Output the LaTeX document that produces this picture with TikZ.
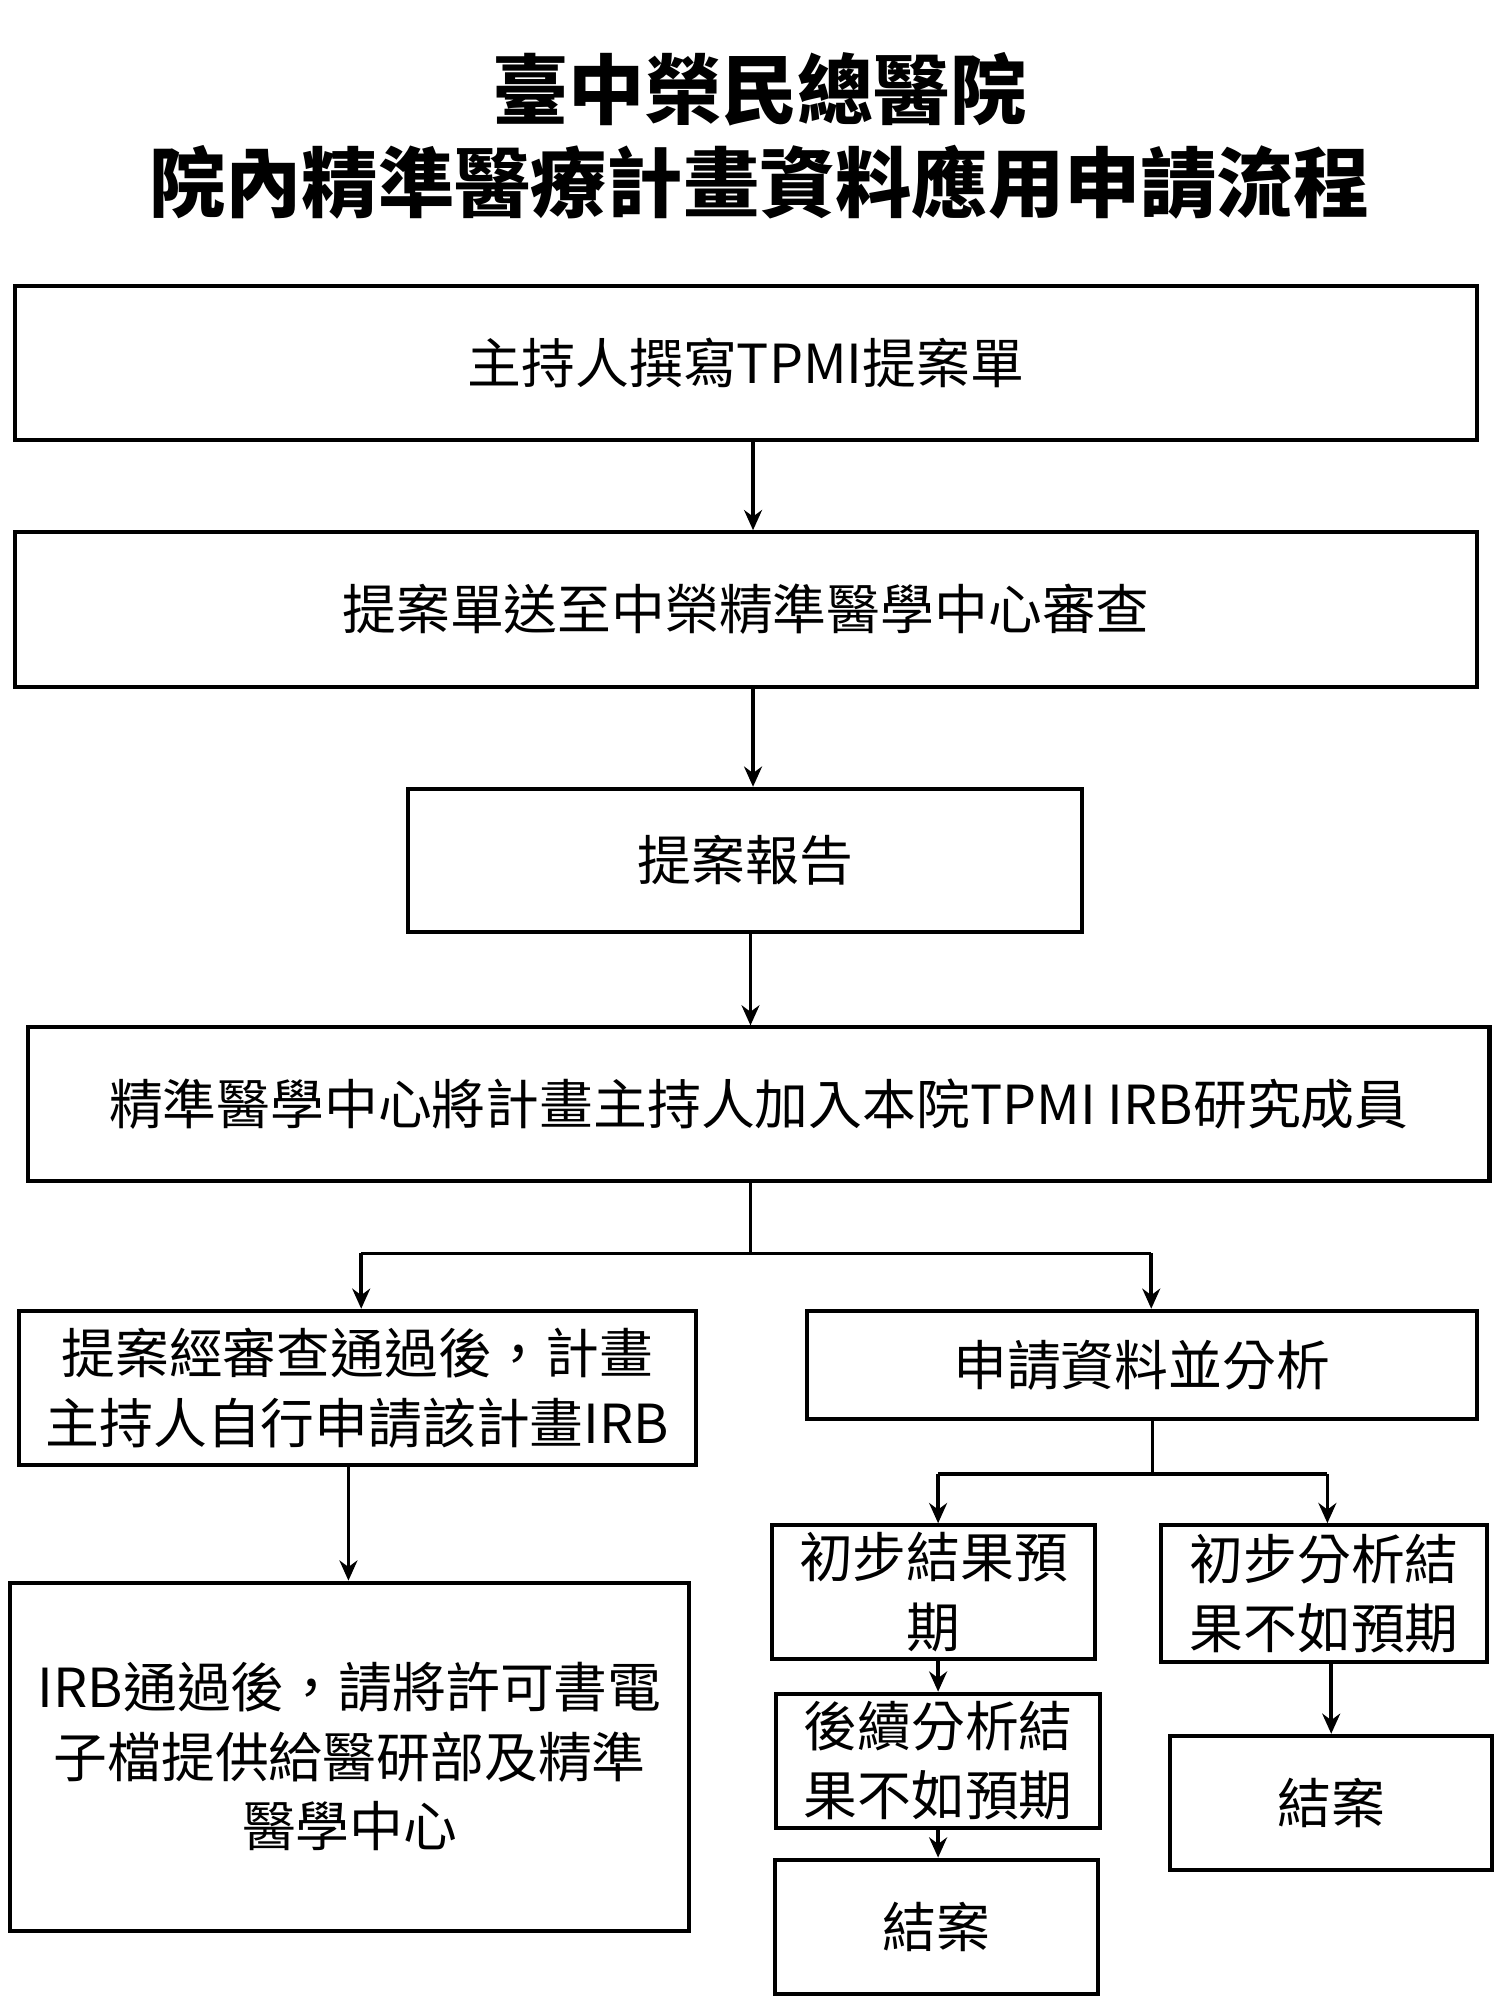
\documentclass[tikz,border=0pt]{standalone}
\usepackage{fontspec}
\setmainfont{Noto Sans CJK TC}
\usetikzlibrary{arrows.meta}
\begin{document}
\begin{tikzpicture}[x=0.02cm,y=-0.02cm,
  bx/.style={draw,line width=1.8pt,align=center,font=\fontsize{24}{31}\selectfont,inner sep=0pt},
  ar/.style={line width=1.6pt,-{Stealth[length=9pt,width=8pt]}},
  ln/.style={line width=1.6pt}]
\useasboundingbox (0,0) rectangle (1175,1567);
\node[font=\bfseries\fontsize{34}{38}\selectfont] (t1) at (595,70) {臺中榮民總醫院};
\node[font=\bfseries\fontsize{34}{38}\selectfont] (t2) at (595,143) {院內精準醫療計畫資料應用申請流程};
\newcommand\bxat[6]{\node[bx,minimum width=#4*0.02cm-#2*0.02cm,minimum height=#5*0.02cm-#3*0.02cm] (#1) at ({(#2+#4)/2},{(#3+#5)/2}) {#6};}
\bxat{b1}{12}{224}{1157}{345}{主持人撰寫TPMI提案單}
\bxat{b2}{12}{417}{1157}{538}{提案單送至中榮精準醫學中心審查}
\bxat{b3}{320}{618}{848}{730}{提案報告}
\bxat{b4}{22}{805}{1167}{925}{精準醫學中心將計畫主持人加入本院TPMI IRB研究成員}
\bxat{b5}{15}{1027}{545}{1148}{提案經審查通過後，計畫\\主持人自行申請該計畫IRB}
\bxat{b6}{632}{1027}{1157}{1112}{申請資料並分析}
\bxat{b7}{605}{1195}{858}{1300}{初步結果預\\期}
\bxat{b8}{910}{1195}{1165}{1302}{初步分析結\\果不如預期}
\bxat{b9}{608}{1327}{862}{1432}{後續分析結\\果不如預期}
\bxat{b10}{607}{1457}{860}{1562}{結案}
\bxat{b11}{917}{1360}{1169}{1465}{結案}
\bxat{b12}{8}{1240}{540}{1513}{IRB通過後，請將許可書電\\子檔提供給醫研部及精準\\醫學中心}
\draw[ar] (b1.south -| 590,0) -- (b2.north -| 590,0);
\draw[ar] (b2.south -| 590,0) -- (b3.north -| 590,0);
\draw[ar] (b3.south -| 588,0) -- (b4.north -| 588,0);
\coordinate (s1) at (588,982);
\draw[ln] (b4.south -| 588,0) -- (s1);
\draw[ln] (283,982) -- (902,982);
\draw[ar] (283,982) -- (b5.north -| 283,0);
\draw[ar] (902,982) -- (b6.north -| 902,0);
\coordinate (s2) at (903,1155);
\draw[ln] (b6.south -| 903,0) -- (s2);
\draw[ln] (735,1155) -- (1040,1155);
\draw[ar] (735,1155) -- (b7.north -| 735,0);
\draw[ar] (1040,1155) -- (b8.north -| 1040,0);
\draw[ar] (b5.south -| 273,0) -- (b12.north -| 273,0);
\draw[ar] (b8.south -| 1043,0) -- (b11.north -| 1043,0);
\draw[ar] (b7.south -| 735,0) -- (b9.north -| 735,0);
\draw[ar] (b9.south -| 735,0) -- (b10.north -| 735,0);
\end{tikzpicture}
\end{document}
